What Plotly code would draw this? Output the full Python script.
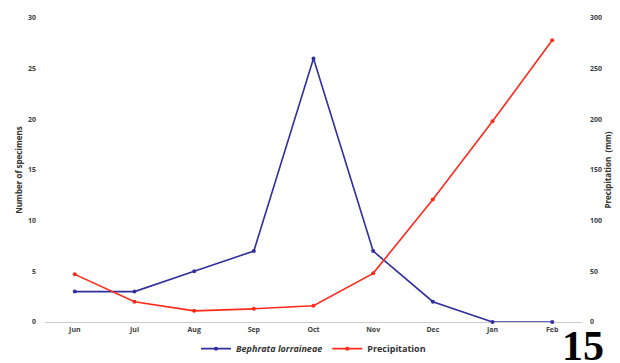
import plotly.graph_objects as go

months = ["Jun", "Jul", "Aug", "Sep", "Oct", "Nov", "Dec", "Jan", "Feb"]
specimens = [3, 3, 5, 7, 26, 7, 2, 0, 0]
precipitation = [47, 20, 11, 13, 16, 48, 121, 198, 278]

left_ticks = [0, 5, 10, 15, 20, 25, 30]
right_ticks = [0, 50, 100, 150, 200, 250, 300]

blue = "#2f2f9e"
red = "#ff2a1a"

fig = go.Figure()
fig.add_trace(go.Scatter(
    x=months, y=specimens, name="<b><i>Bephrata lorraineae</i></b>",
    mode="lines+markers", line=dict(color=blue, width=1.6),
    marker=dict(size=4, color=blue), yaxis="y", cliponaxis=False))
fig.add_trace(go.Scatter(
    x=months, y=precipitation, name="<b>Precipitation</b>",
    mode="lines+markers", line=dict(color=red, width=1.6),
    marker=dict(size=4, color=red), yaxis="y2", cliponaxis=False))

L, R, T, B = 45, 38, 18, 41
W, H = 620, 363
pw = W - L - R
ph = H - T - B

tickfont = dict(family="Open Sans, Arial", size=7, color="#404040", weight="bold")
fig.update_layout(
    width=W, height=H,
    margin=dict(l=L, r=R, t=T, b=B, autoexpand=False),
    paper_bgcolor="white", plot_bgcolor="white",
    showlegend=True,
    legend=dict(orientation="h", x=0.5, xanchor="center", y=-0.04, yanchor="top",
                font=dict(family="Open Sans, Arial", size=9, color="#333333"),
                itemwidth=30, tracegroupgap=0),
    xaxis=dict(tickfont=tickfont, showgrid=False, showline=False, ticks="",
               zeroline=False, range=[-0.5, 8.5], ticklabelstandoff=2),
    yaxis=dict(range=[0, 30], tickvals=left_ticks, tickfont=tickfont,
               showgrid=False, zeroline=True, zerolinecolor="#cccccc",
               zerolinewidth=1, ticks="", ticklabelstandoff=8,
               title=dict(text="<b>Number of specimens</b>",
                          font=dict(family="Open Sans, Arial", size=8, color="#333333"),
                          standoff=4)),
    yaxis2=dict(range=[0, 300], tickvals=right_ticks, tickfont=tickfont,
                overlaying="y", side="right", showgrid=False, zeroline=False,
                ticks="", ticklabelstandoff=7,
                title=dict(text="<b>Precipitation  (mm)</b>",
                           font=dict(family="Open Sans, Arial", size=8, color="#333333"),
                           standoff=4)),
)
fig.add_annotation(text="<b>15</b>", x=(606 - L) / pw, y=(H - B - 346) / ph,
                   xref="paper", yref="paper",
                   xanchor="right", yanchor="middle", showarrow=False,
                   font=dict(family="Liberation Serif, Times New Roman", size=42, color="black"))
fig.write_html("out.html", config={"displayModeBar": False},
               post_script="document.body.style.margin='0';document.body.style.overflow='hidden';")
